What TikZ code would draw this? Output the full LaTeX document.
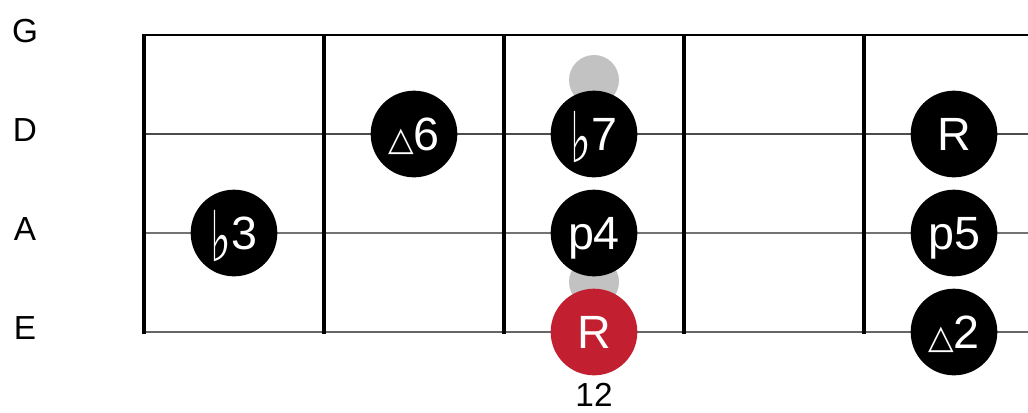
\documentclass[tikz,border=0pt]{standalone}
\usepackage{fontspec}
\setmainfont{Liberation Sans}
\newfontfamily\symfont{DejaVu Sans}
\definecolor{rootred}{HTML}{C21F30}
\definecolor{markgrey}{HTML}{C2C2C2}
\newcommand{\flatsym}{\raisebox{-9pt}{\scalebox{1.1}[1.75]{\fontsize{30}{30}\symfont ♭}}}
\newcommand{\majsym}{{\fontsize{25}{25}\symfont △}}
\begin{document}
\begin{tikzpicture}[
    x=0.75pt, y=-0.75pt,
    fret/.style={line width=3pt},
    note/.style={circle, fill=black, text=white, minimum size=65pt, inner sep=0pt,
        text height=25pt, text depth=0pt, font=\fontsize{35}{35}\selectfont},
    rootnote/.style={note, fill=rootred},
    marker/.style={circle, fill=markgrey, minimum size=37.5pt, inner sep=0pt},
    strlabel/.style={font=\fontsize{25}{25}\selectfont}
]
\useasboundingbox (0,0) rectangle (1028,412);
% strings
\draw[line width=0.8pt, black] (143,35) -- (1028,35);
\draw[line width=0.8pt, black!70] (143,134) -- (1028,134);
\draw[line width=1.1pt, black!55] (143,233) -- (1028,233);
\draw[line width=1.6pt, black!60] (143,332) -- (1028,332);
% frets
\foreach \x in {144,324,504,684,864}
    \draw[fret] (\x,34) -- (\x,334);
% string names
\node[strlabel] (lblG) at (25,31) {G};
\node[strlabel] (lblD) at (25,130) {D};
\node[strlabel] (lblA) at (25,229) {A};
\node[strlabel] (lblE) at (25,328) {E};
% 12th fret markers
\node[marker] (dotup) at (594,80) {};
\node[marker] (dotlow) at (594,282) {};
% notes
\node[note] (n3) at (234,233) {\flatsym3};
\node[note] (n6) at (414,134) {\majsym6};
\node[note] (n7) at (594,134) {\flatsym7};
\node[note] (n4) at (594,233) {p4};
\node[rootnote] (root) at (594,332) {R};
\node[note] (octave) at (954,134) {R};
\node[note] (n5) at (954,233) {p5};
\node[note] (n2) at (954,332) {\majsym2};
\node[strlabel] (fretnum) at (594,395) {12};
\end{tikzpicture}
\end{document}
